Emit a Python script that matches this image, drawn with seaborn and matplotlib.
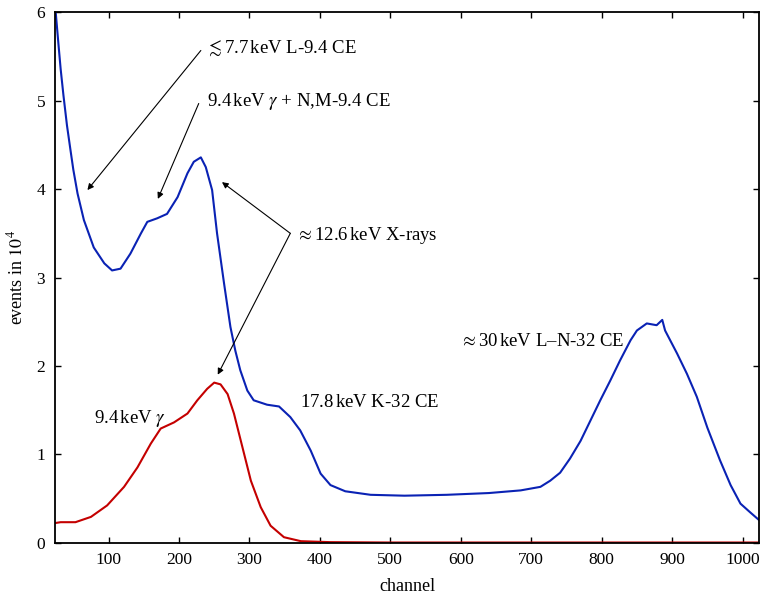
import numpy as np
import pandas as pd
import matplotlib
matplotlib.use("Agg")
import matplotlib.pyplot as plt
import seaborn as sns

# ---- data ----
blue_channel = [25, 29, 32, 36, 41, 46, 50, 56, 65, 79, 94, 105, 117, 131, 146, 155,
                169, 183, 198, 212, 221, 231, 238, 247, 254, 264, 273, 280, 287, 297,
                306, 325, 342, 358, 372, 387, 401, 415, 436, 472, 520, 580, 640, 685,
                713, 727, 741, 755, 770, 784, 798, 812, 826, 841, 850, 864, 878, 886,
                890, 907, 921, 935, 950, 968, 983, 997, 1011, 1024]
blue_events = [6.0, 5.63, 5.36, 5.06, 4.72, 4.44, 4.22, 3.95, 3.65, 3.34, 3.16, 3.08,
               3.10, 3.27, 3.50, 3.63, 3.67, 3.72, 3.91, 4.18, 4.31, 4.36, 4.25, 3.99,
               3.50, 2.93, 2.44, 2.17, 1.95, 1.72, 1.61, 1.56, 1.54, 1.42, 1.27, 1.04,
               0.78, 0.65, 0.58, 0.54, 0.53, 0.54, 0.56, 0.59, 0.63, 0.70, 0.79, 0.95,
               1.15, 1.38, 1.61, 1.83, 2.06, 2.29, 2.40, 2.48, 2.46, 2.52, 2.40, 2.14,
               1.91, 1.65, 1.30, 0.93, 0.65, 0.44, 0.34, 0.25]

red_channel = [24, 32, 53, 75, 98, 122, 141, 160, 174, 193, 212, 226, 240, 250, 259,
               269, 278, 290, 302, 316, 330, 349, 373, 415, 500, 1024]
red_events = [0.22, 0.23, 0.23, 0.29, 0.42, 0.63, 0.85, 1.12, 1.29, 1.36, 1.46, 1.61,
              1.74, 1.81, 1.79, 1.68, 1.46, 1.08, 0.70, 0.40, 0.19, 0.06, 0.015, 0.004,
              0.0, 0.0]

x_ticks = [100, 200, 300, 400, 500, 600, 700, 800, 900, 1000]
y_ticks = [0, 1, 2, 3, 4, 5, 6]

blue_df = pd.DataFrame({"channel": blue_channel, "events": blue_events})
red_df = pd.DataFrame({"channel": red_channel, "events": red_events})

# ---- style ----
sns.set_theme(style="ticks")
plt.rcParams["font.family"] = ["Liberation Serif", "DejaVu Serif"]
plt.rcParams["mathtext.fontset"] = "stix"
plt.rcParams["text.color"] = "black"
plt.rcParams["axes.labelcolor"] = "black"
plt.rcParams["xtick.direction"] = "in"
plt.rcParams["ytick.direction"] = "in"

fig = plt.figure(figsize=(7.62, 5.98), dpi=100)
ax = fig.add_axes([0.0722, 0.0928, 0.9245, 0.8863])

sns.lineplot(data=red_df, x="channel", y="events", ax=ax, color="#c40000", lw=1.5,
             estimator=None, sort=False)
sns.lineplot(data=blue_df, x="channel", y="events", ax=ax, color="#0a22b4", lw=1.5,
             estimator=None, sort=False)

ax.set_xlim(24, 1024)
ax.set_ylim(0, 6)
ax.set_xticks(x_ticks)
ax.set_yticks(y_ticks)
ax.tick_params(axis="both", which="both", direction="in", top=True, right=True,
               length=4.5, width=1.0, labelsize=12.5, pad=7, colors="black")
for s in ax.spines.values():
    s.set_linewidth(1.3)
    s.set_color("black")

ax.set_xlabel("channel", fontsize=13, labelpad=7)
ax.set_ylabel(r"events in $10^4$", fontsize=13, labelpad=7)

fs = 13.5
ap = dict(arrowstyle="-|>", lw=0.8, color="black", shrinkA=0, shrinkB=0,
          mutation_scale=9)

ax.text(238, 5.59, r"$\lesssim$7.7$\,$keV L-9.4 CE", fontsize=fs, va="center", ha="left")
ax.annotate("", xy=(70, 3.99), xytext=(231, 5.57), arrowprops=ap)

ax.text(240, 4.99, r"9.4$\,$keV $\gamma$ + N,M-9.4 CE", fontsize=fs, va="center", ha="left")
ax.annotate("", xy=(170, 3.89), xytext=(228, 4.97), arrowprops=ap)

ax.text(366, 3.48, r"$\approx$12.6$\,$keV X-rays", fontsize=fs, va="center", ha="left")
ax.annotate("", xy=(261, 4.08), xytext=(358, 3.50), arrowprops=ap)
ax.annotate("", xy=(255, 1.90), xytext=(358, 3.50), arrowprops=ap)

ax.text(599, 2.28, r"$\approx$30$\,$keV L–N-32 CE", fontsize=fs, va="center", ha="left")
ax.text(372, 1.59, r"17.8$\,$keV K-32 CE", fontsize=fs, va="center", ha="left")
ax.text(79, 1.40, r"9.4$\,$keV $\gamma$", fontsize=fs, va="center", ha="left")

fig.savefig("out.png", dpi=100)
